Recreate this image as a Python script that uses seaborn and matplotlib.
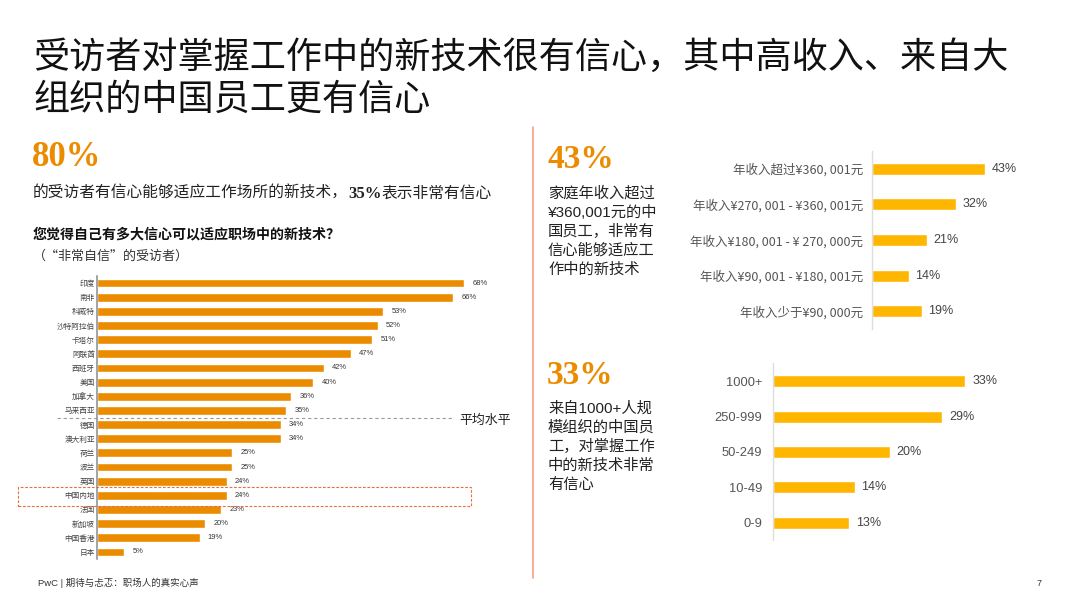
import matplotlib
matplotlib.use('Agg')
import matplotlib.pyplot as plt
import seaborn as sns
import pandas as pd
from matplotlib.patches import Rectangle
from matplotlib.lines import Line2D

# ---------------- data ----------------
countries = ['印度', '南非', '科威特', '沙特阿拉伯', '卡塔尔', '阿联酋', '西班牙', '美国',
             '加拿大', '马来西亚', '德国', '澳大利亚', '荷兰', '波兰', '英国', '中国内地',
             '法国', '新加坡', '中国香港', '日本']
country_pct = [68, 66, 53, 52, 51, 47, 42, 40, 36, 35, 34, 34, 25, 25, 24, 24, 23, 20, 19, 5]

income_labels = ['年收入超过¥360, 001元', '年收入¥270, 001 - ¥360, 001元',
                 '年收入¥180, 001 - ¥ 270, 000元', '年收入¥90, 001 - ¥180, 001元',
                 '年收入少于¥90, 000元']
income_pct = [43, 32, 21, 14, 19]

size_labels = ['1000+', '250-999', '50-249', '10-49', '0-9']
size_pct = [33, 29, 20, 14, 13]

ORANGE = '#EB8C00'
YELLOW = '#FFB600'

sns.set_theme(style='white')
plt.rcParams['font.family'] = ['Liberation Sans', 'Noto Sans CJK SC', 'DejaVu Sans']
CJK = ['Noto Sans CJK SC', 'DejaVu Sans']
SERIF = ['Liberation Serif', 'DejaVu Serif']

W, H = 1080, 608
fig = plt.figure(figsize=(W / 100, H / 100), dpi=100)
fig.patch.set_facecolor('white')


def fx(x):
    return x / W


def fy(y):
    return 1 - y / H


def rect(l, t, r, b):
    return [fx(l), fy(b), (r - l) / W, (b - t) / H]


# ---------------- title ----------------
fig.text(fx(33), fy(58), '受访者对掌握工作中的新技术很有信心，其中高收入、来自大',
         fontsize=26, family=CJK, fontweight='medium', color='#111', va='center', ha='left')
fig.text(fx(33), fy(100), '组织的中国员工更有信心',
         fontsize=26, family=CJK, fontweight='medium', color='#111', va='center', ha='left')

# separator
fig.add_artist(Line2D([fx(533), fx(533)], [fy(127), fy(578)], color='#F2A283', lw=1.2,
                      transform=fig.transFigure))

# ---------------- left texts ----------------
fig.text(fx(32), fy(157), '80%', fontsize=25, family=SERIF, fontweight='bold',
         color=ORANGE, va='center', ha='left')
renderer = fig.canvas.get_renderer()
t1 = fig.text(fx(33), fy(193), '的受访者有信心能够适应工作场所的新技术，', fontsize=11.3,
              family=CJK, color='#222', va='center', ha='left')
bb = t1.get_window_extent(renderer)
t2 = fig.text(bb.x1 / W, fy(194), '35%', fontsize=12, family=SERIF, fontweight='bold',
              color='#222', va='center', ha='left')
bb2 = t2.get_window_extent(renderer)
fig.text(bb2.x1 / W, fy(193), '表示非常有信心', fontsize=11.3, family=CJK, color='#222',
         va='center', ha='left')

fig.text(fx(33), fy(234), '您觉得自己有多大信心可以适应职场中的新技术？', fontsize=10.1,
         family=CJK, fontweight='bold', color='#111', va='center', ha='left')
fig.text(fx(33), fy(256), '（“非常自信”的受访者）', fontsize=9.4, family=CJK,
         color='#333', va='center', ha='left')

# ---------------- left chart ----------------
ax1 = fig.add_axes(rect(97, 276, 502, 559))
df1 = pd.DataFrame({'country': countries, 'pct': country_pct})
sns.barplot(data=df1, x='pct', y='country', orient='h', color=ORANGE, saturation=1,
            width=0.62, ax=ax1)
ax1.set_xlim(0, 75)
ax1.set_xlabel('')
ax1.set_ylabel('')
ax1.set_xticks([])
for s in ['top', 'right', 'bottom']:
    ax1.spines[s].set_visible(False)
ax1.spines['left'].set_color('#8a8a8a')
ax1.spines['left'].set_linewidth(1.1)
ax1.tick_params(axis='y', length=0, pad=1.5, labelsize=5.5, labelcolor='#444')
for lab in ax1.get_yticklabels():
    lab.set_family(CJK)
ax1.bar_label(ax1.containers[0], fmt='%d%%', padding=6, fontsize=5.4, color='#333')
ax1.set_facecolor('none')

# average dashed line
fig.add_artist(Line2D([fx(57), fx(452)], [fy(417.5), fy(417.5)], color='#9a9a9a', lw=0.8,
                      ls=(0, (3, 2.5)), transform=fig.transFigure))
fig.text(fx(459), fy(420), '平均水平', fontsize=9.3, family=CJK, fontweight='medium',
         color='#222', va='center', ha='left')

# highlight box for 中国内地
fig.add_artist(Rectangle((fx(18), fy(506)), (471 - 18) / W, (506 - 487) / H, fill=False,
                         edgecolor='#E8703A', lw=0.8, ls=(0, (2.5, 1.5)),
                         transform=fig.transFigure))

# ---------------- right top ----------------
fig.text(fx(547), fy(159), '43%', fontsize=24, family=SERIF, fontweight='bold',
         color=ORANGE, va='center', ha='left')
lines_a = ['家庭年收入超过', '¥360,001元的中', '国员工，非常有', '信心能够适应工', '作中的新技术']
for i, s in enumerate(lines_a):
    fig.text(fx(548), fy(193 + i * 19.2), s, fontsize=11,
             family=['Liberation Sans', 'Noto Sans CJK SC'],
             color='#222', va='center', ha='left')

ax2 = fig.add_axes(rect(872, 151, 1030, 329))
df2 = pd.DataFrame({'label': income_labels, 'pct': income_pct})
sns.barplot(data=df2, x='pct', y='label', orient='h', color=YELLOW, saturation=1,
            width=0.34, ax=ax2)
ax2.set_xlim(0, 60)
ax2.set_xlabel('')
ax2.set_ylabel('')
ax2.set_xticks([])
for s in ['top', 'right', 'bottom']:
    ax2.spines[s].set_visible(False)
ax2.spines['left'].set_color('#dddddd')
ax2.spines['left'].set_linewidth(1.0)
ax2.tick_params(axis='y', length=0, pad=6.5, labelsize=9, labelcolor='#555')
for lab in ax2.get_yticklabels():
    lab.set_family(CJK)
ax2.bar_label(ax2.containers[0], fmt='%d%%', padding=4.5, fontsize=9, color='#444')
ax2.set_facecolor('none')

# ---------------- right bottom ----------------
fig.text(fx(547), fy(375), '33%', fontsize=24, family=SERIF, fontweight='bold',
         color=ORANGE, va='center', ha='left')
lines_b = ['来自1000+人规', '模组织的中国员', '工，对掌握工作', '中的新技术非常', '有信心']
for i, s in enumerate(lines_b):
    fig.text(fx(548), fy(408 + i * 19.2), s, fontsize=11,
             family=['Liberation Sans', 'Noto Sans CJK SC'],
             color='#222', va='center', ha='left')

ax3 = fig.add_axes(rect(773, 363.5, 1006, 540.5))
df3 = pd.DataFrame({'size': size_labels, 'pct': size_pct})
sns.barplot(data=df3, x='pct', y='size', orient='h', color=YELLOW, saturation=1,
            width=0.34, ax=ax3)
ax3.set_xlim(0, 40)
ax3.set_xlabel('')
ax3.set_ylabel('')
ax3.set_xticks([])
for s in ['top', 'right', 'bottom']:
    ax3.spines[s].set_visible(False)
ax3.spines['left'].set_color('#dddddd')
ax3.spines['left'].set_linewidth(1.0)
ax3.tick_params(axis='y', length=0, pad=8, labelsize=9.3, labelcolor='#555')
ax3.bar_label(ax3.containers[0], fmt='%d%%', padding=5, fontsize=9, color='#444')
ax3.set_facecolor('none')

# ---------------- footer ----------------
fig.text(fx(38), fy(583), 'PwC | 期待与忐忑：职场人的真实心声', fontsize=6.8,
         family=['Liberation Sans', 'Noto Sans CJK SC'], color='#333', va='center', ha='left')
fig.text(fx(1042), fy(583), '7', fontsize=6.5, color='#333', va='center', ha='right')

fig.savefig('out.png', dpi=100, facecolor='white')
